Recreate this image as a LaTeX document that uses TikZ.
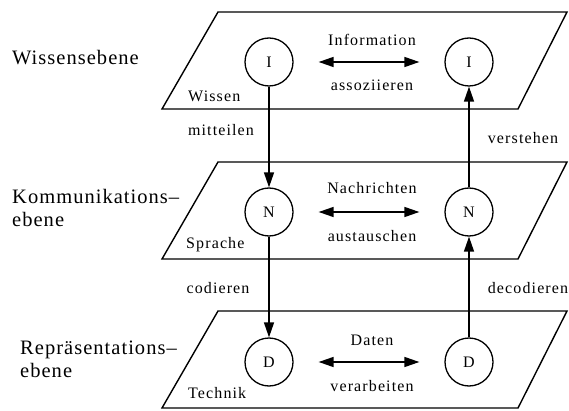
\documentclass[tikz,border=0pt]{standalone}
\usepackage{fontspec}
\setmainfont{Liberation Serif}
\newfontfamily\sidefont[LetterSpace=5]{Liberation Serif}
\newfontfamily\lblfont[LetterSpace=7]{Liberation Serif}
\usetikzlibrary{arrows.meta}
\begin{document}
\begin{tikzpicture}[x=1pt,y=-1pt,
  plane/.style={draw=black,line width=1.4pt,line join=miter},
  state/.style={circle,draw=black,line width=1.3pt,minimum size=48pt,inner sep=0pt,font=\fontsize{16}{16}\selectfont},
  lbl/.style={font=\lblfont\fontsize{16}{16}\selectfont,inner sep=1pt},
  side/.style={font=\sidefont\fontsize{20.5}{23}\selectfont,align=left,anchor=west,inner sep=0pt},
  flow/.style={line width=1.4pt,-{Triangle[length=15pt,width=10pt]}},
  both/.style={line width=1.4pt,shorten <=25pt,shorten >=25pt,{Triangle[length=15pt,width=10pt]}-{Triangle[length=15pt,width=10pt]}}]
\useasboundingbox (0,0) rectangle (569,411);
% planes
\foreach \dy in {0,150,299}{
  \draw[plane] (218,12+\dy) -- (567,12+\dy) -- (518,109+\dy) -- (162,109+\dy) -- cycle;
}
% side labels
\node[side] (lw) at (12,58) {Wissensebene};
\node[side] (lk) at (12,208) {Kommunikations–\\ebene};
\node[side] (lr) at (20,359) {Repräsentations–\\ebene};
% plane names
\node[lbl,anchor=west] (pw) at (187,96) {Wissen};
\node[lbl,anchor=west] (ps) at (185,245) {Sprache};
\node[lbl,anchor=west] (pt) at (187,393) {Technik};
% states
\node[state] (i1) at (269,62) {I};
\node[state] (i2) at (469,62) {I};
\node[state] (n1) at (269,212) {N};
\node[state] (n2) at (469,212) {N};
\node[state] (d1) at (269,362) {D};
\node[state] (d2) at (469,362) {D};
% horizontal arrows
\draw[both] (i1) -- (i2);
\draw[both] (n1) -- (n2);
\draw[both] (d1) -- (d2);
\node[lbl] (t1) at (372,40) {Information};
\node[lbl] (t2) at (372,85) {assoziieren};
\node[lbl] (t3) at (372,188) {Nachrichten};
\node[lbl] (t4) at (372,236) {austauschen};
\node[lbl] (t5) at (372,340) {Daten};
\node[lbl] (t6) at (372,386) {verarbeiten};
% vertical arrows
\draw[flow] (i1) -- (n1);
\draw[flow] (n1) -- (d1);
\draw[flow] (d2) -- (n2);
\draw[flow] (n2) -- (i2);
\node[lbl] (v1) at (221,130) {mitteilen};
\node[lbl] (v2) at (523,138) {verstehen};
\node[lbl] (v3) at (218,288) {codieren};
\node[lbl] (v4) at (528,288) {decodieren};
\end{tikzpicture}
\end{document}
